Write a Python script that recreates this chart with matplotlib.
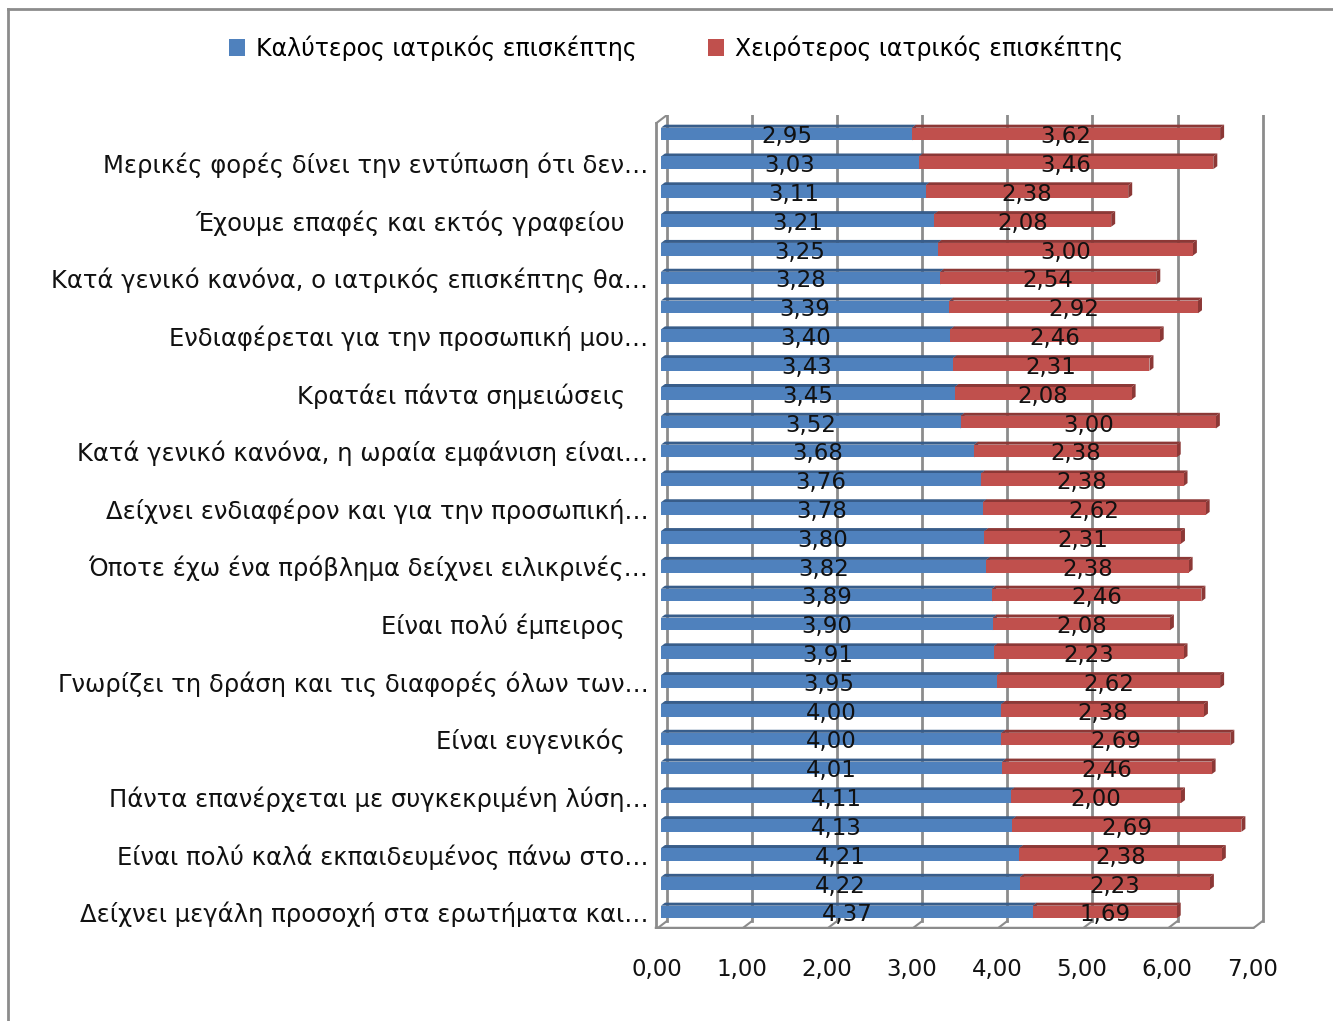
import matplotlib
matplotlib.use("Agg")
import matplotlib.pyplot as plt
from matplotlib.patches import Patch, Polygon
from matplotlib.lines import Line2D

plt.rcParams["font.family"] = ["DejaVu Sans"]

# categories listed bottom -> top (Excel order); only every other label shown
labels = [
    "Δείχνει μεγάλη προσοχή στα ερωτήματα και…", "",
    "Είναι πολύ καλά εκπαιδευμένος πάνω στο…", "",
    "Πάντα επανέρχεται με συγκεκριμένη λύση…", "",
    "Είναι ευγενικός   ", "",
    "Γνωρίζει τη δράση και τις διαφορές όλων των…", "",
    "Είναι πολύ έμπειρος   ", "",
    "Όποτε έχω ένα πρόβλημα δείχνει ειλικρινές…", "",
    "Δείχνει ενδιαφέρον και για την προσωπική…", "",
    "Κατά γενικό κανόνα, η ωραία εμφάνιση είναι…", "",
    "Κρατάει πάντα σημειώσεις   ", "",
    "Ενδιαφέρεται για την προσωπική μου…", "",
    "Κατά γενικό κανόνα, ο ιατρικός επισκέπτης θα…", "",
    "Έχουμε επαφές και εκτός γραφείου   ", "",
    "Μερικές φορές δίνει την εντύπωση ότι δεν…", "",
]
best = [4.37, 4.22, 4.21, 4.13, 4.11, 4.01, 4.00, 4.00, 3.95, 3.91,
        3.90, 3.89, 3.82, 3.80, 3.78, 3.76, 3.68, 3.52, 3.45, 3.43,
        3.40, 3.39, 3.28, 3.25, 3.21, 3.11, 3.03, 2.95]
worst = [1.69, 2.23, 2.38, 2.69, 2.00, 2.46, 2.69, 2.38, 2.62, 2.23,
         2.08, 2.46, 2.38, 2.31, 2.62, 2.38, 2.38, 3.00, 2.08, 2.31,
         2.46, 2.92, 2.54, 3.00, 2.08, 2.38, 3.46, 3.62]
series_names = ["Καλύτερος ιατρικός επισκέπτης", "Χειρότερος ιατρικός επισκέπτης"]
xticks = [0, 1, 2, 3, 4, 5, 6, 7]

BLUE, BLUE_D = "#4F81BD", "#385D8A"
RED, RED_D = "#C0504D", "#8C3836"
GRID = "#8c8c8c"
FS = 16.5
TXT = "#111111"

W, H = 1333, 1021
fig = plt.figure(figsize=(W / 100, H / 100), dpi=100)

# axes placed in pixels: x=0 at 661px, 85.1px per unit; rows 28.8px apart
px_unit = 85.1
x0, x1 = -0.1, 7.1
left_px = 661 + x0 * px_unit
width_px = (x1 - x0) * px_unit
y_lo, y_hi = -0.59, 27.66
ax = fig.add_axes([left_px / W, (H - 929) / H, width_px / W, 814 / H])
ax.set_xlim(x0, x1)
ax.set_ylim(y_lo, y_hi)
for s in ax.spines.values():
    s.set_visible(False)

# pseudo-3D frame: back wall gridlines, left wall, floor
dx_back, dx_front = 0.07, -0.053
y_back_floor = y_lo + 8 / 28.8
y_front_top = y_hi - 8 / 28.8
for v in xticks:
    ax.plot([v + dx_back, v + dx_back], [y_back_floor, y_hi], color=GRID, lw=2, zorder=0)
    ax.plot([v + dx_front, v + dx_back], [y_lo, y_back_floor], color=GRID, lw=1.5, zorder=0)
ax.plot([dx_front, dx_front], [y_lo, y_front_top], color=GRID, lw=2, zorder=0)
ax.plot([dx_front, dx_back], [y_front_top, y_hi], color=GRID, lw=1.5, zorder=0)
ax.plot([dx_front, xticks[-1] + dx_front], [y_lo + 0.02, y_lo + 0.02], color=GRID, lw=2.5, zorder=0)

# bars with a small depth effect
h = 0.44
dpx, dpy = 4 / px_unit, 3 / 28.8
for i, (b, w) in enumerate(zip(best, worst)):
    for start, val, fc, dc in [(0, b, BLUE, BLUE_D), (b, w, RED, RED_D)]:
        end = start + val
        yb, yt = i - h / 2, i + h / 2
        ax.add_patch(Polygon([(start, yt), (end, yt), (end + dpx, yt + dpy), (start + dpx, yt + dpy)],
                             closed=True, fc=dc, ec="none", zorder=2))
        ax.add_patch(Polygon([(end, yb), (end, yt), (end + dpx, yt + dpy), (end + dpx, yb + dpy)],
                             closed=True, fc=dc, ec="none", zorder=2))
    ax.barh(i, b, height=h, left=0, color=BLUE, zorder=3)
    ax.barh(i, w, height=h, left=b, color=RED, zorder=3)
    ax.text(b / 2, i - 0.1, f"{b:.2f}".replace(".", ","), ha="center", va="center",
            fontsize=FS, color=TXT, zorder=4)
    ax.text(b + w / 2, i - 0.1, f"{w:.2f}".replace(".", ","), ha="center", va="center",
            fontsize=FS, color=TXT, zorder=4)

ax.set_yticks(range(len(labels)))
ax.set_yticklabels(labels, fontsize=17.5, color=TXT)
ax.tick_params(axis="y", length=0, pad=3)
for t in ax.get_yticklabels():
    t.set_y(t.get_position()[1])
ax.set_xticks([v + dx_front for v in xticks])
ax.set_xticklabels([f"{v:.2f}".replace(".", ",") for v in xticks], fontsize=FS, color=TXT)
ax.tick_params(axis="x", length=0, pad=21)

# legend
handles = [Patch(fc=BLUE, ec="none"), Patch(fc=RED, ec="none")]
fig.legend(handles, series_names, loc="center", bbox_to_anchor=(676 / W, 1 - 48 / H),
           ncol=2, frameon=False, fontsize=17, handlelength=0.7, handleheight=0.7,
           handletextpad=0.45, columnspacing=3.0)

# outer chart border (cut off at right and bottom)
fig.add_artist(Line2D([8 / W, 8 / W], [0, 1 - 9 / H], color=GRID, lw=2, transform=fig.transFigure))
fig.add_artist(Line2D([8 / W, 1], [1 - 9 / H, 1 - 9 / H], color=GRID, lw=2, transform=fig.transFigure))

fig.savefig("out.png", dpi=100)
